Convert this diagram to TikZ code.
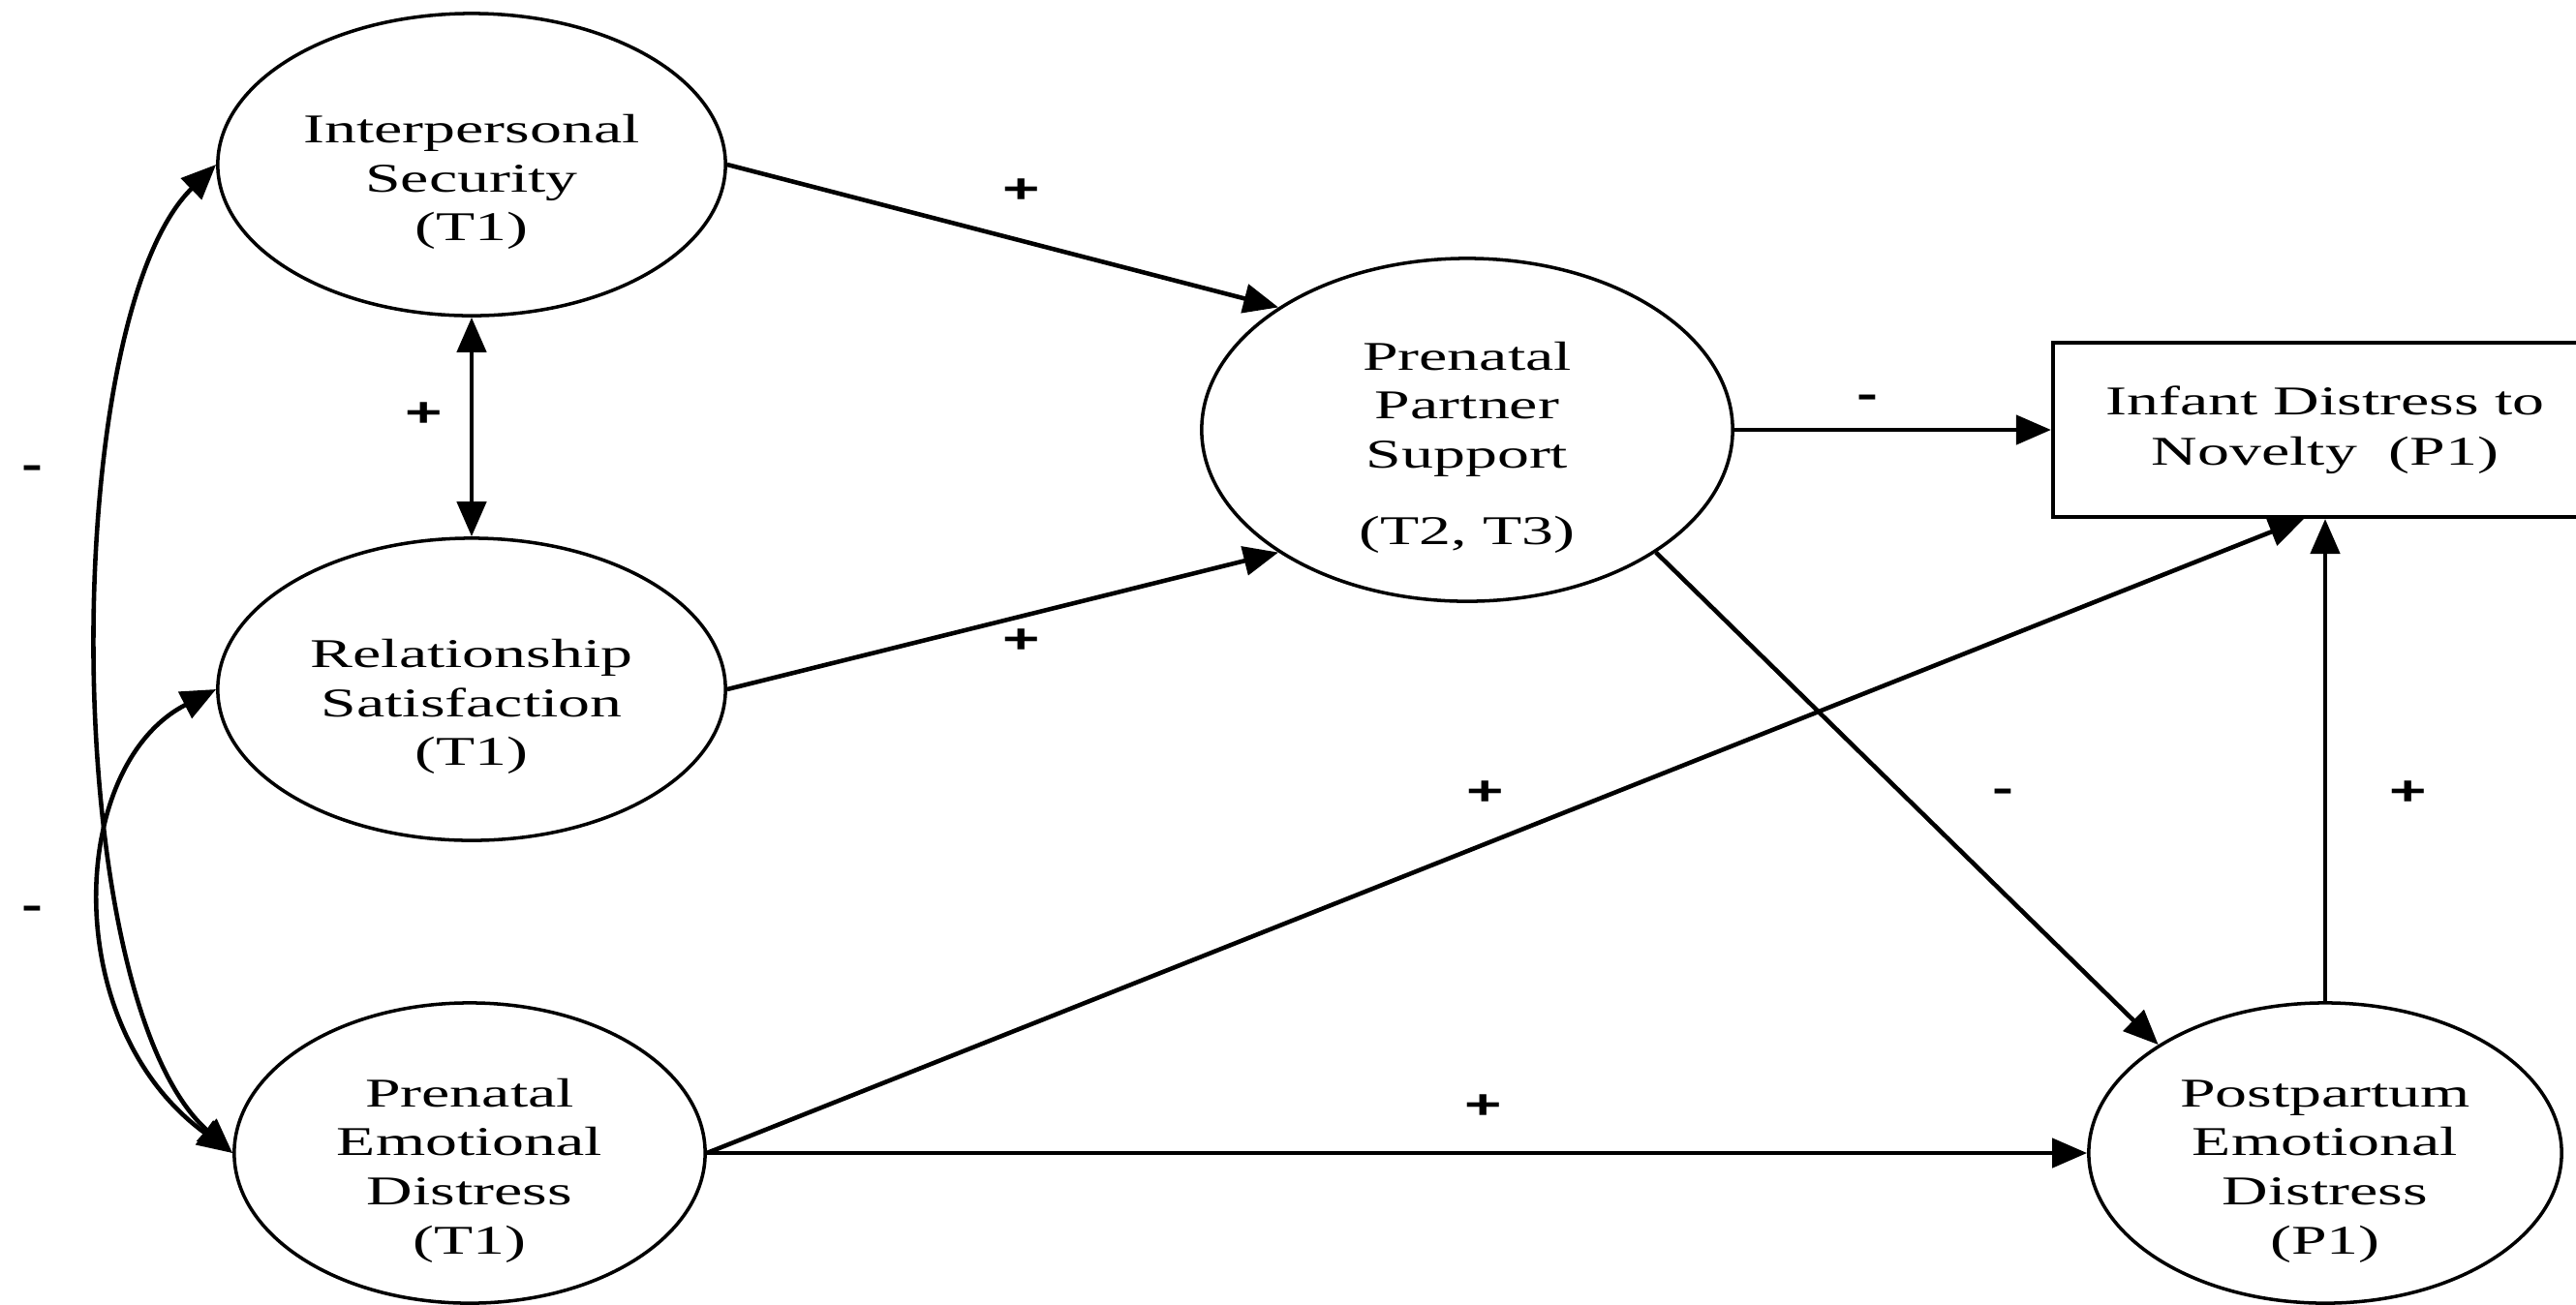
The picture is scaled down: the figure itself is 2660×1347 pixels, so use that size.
\documentclass[tikz,border=0pt]{standalone}
\usepackage{fontspec}
\setmainfont{Liberation Serif}[FakeStretch=1.56]
\newfontfamily\signfont{Liberation Sans}[FakeStretch=1.56]
\usetikzlibrary{shapes.geometric,arrows.meta}

% strut that lowers the text inside the ellipses
\newcommand{\toppad}{\rule{0pt}{0.65cm}}

\begin{document}
\begin{tikzpicture}[x=0.01cm, y=-0.01cm, >={Triangle[length=0.36cm, width=0.3cm]}]

    % --- DEFINE STYLES ---
    % Style for latent constructs
    \tikzstyle{latent} = [ellipse, draw, line width=1pt, inner xsep=0pt, inner ysep=-0.06cm,
        align=center, font=\fontsize{12pt}{14.4pt}\selectfont]
    % Style for the observed outcome
    \tikzstyle{observed} = [rectangle, draw, line width=1.1pt, inner sep=0pt, align=center,
        font=\fontsize{12pt}{14.8pt}\selectfont, minimum width=5.62cm, minimum height=1.8cm]
    % Style for directed paths
    \tikzstyle{effect} = [->, line width=1.3pt]
    % Style for covariances
    \tikzstyle{covar} = [<->, line width=1.3pt]
    % Style for the signs of the paths
    \tikzstyle{signlabel} = [font=\signfont\bfseries\fontsize{12pt}{14pt}\selectfont, inner sep=0pt]

    \useasboundingbox (0,0) rectangle (2660,1347);

    % --- CONSTRUCTS ---
    \node[latent, minimum width=5.24cm, minimum height=3.12cm] (IS) at (487,170)
        {\toppad Interpersonal\\Security\\(T1)};
    \node[latent, minimum width=5.24cm, minimum height=3.12cm] (RS) at (487,712)
        {\toppad Relationship\\Satisfaction\\(T1)};
    \node[latent, minimum width=4.86cm, minimum height=3.10cm] (PED) at (485,1191)
        {\toppad Prenatal\\Emotional\\Distress\\(T1)};
    \node[latent, minimum width=5.48cm, minimum height=3.54cm] (PPS) at (1515,444)
        {\toppad Prenatal\\Partner\\Support\\[8pt](T2, T3)};
    \node[observed] (IDN) at (2401,444) {Infant Distress to\\Novelty~ (P1)};
    \node[latent, minimum width=4.88cm, minimum height=3.10cm] (PoED) at (2401,1191)
        {\toppad Postpartum\\Emotional\\Distress\\(P1)};

    % --- PATHS ---
    \draw[effect] (IS.east) -- (PPS.147);
    \draw[effect] (RS.east) -- (PPS.213);
    \draw[effect] (PPS.east) -- (IDN.west);
    \draw[effect] (PPS.-33) -- (PoED.147);
    \draw[effect] (PED.east) -- ([xshift=-0.22cm]IDN.south);
    \draw[effect] (PED.east) -- (PoED.west);
    \draw[effect] (PoED.north) -- (PoED.north |- IDN.south);

    % --- COVARIANCES ---
    \draw[covar] (IS.south) -- (RS.north);
    \draw[covar] (IS.west) .. controls (60,330) and (60,1030) .. (PED.west);
    \draw[covar] (RS.west) .. controls (70,790) and (60,1060) .. (PED.west);

    % --- SIGNS ---
    \node[signlabel] (sISPPS) at (1055,197) {+};
    \node[signlabel] (sRSPPS) at (1055,662) {+};
    \node[signlabel] (sISRS) at (438,428) {+};
    \node[signlabel] (sPPSIDN) at (1928,415) {-};
    \node[signlabel] (sPPSPoED) at (2068,822) {-};
    \node[signlabel] (sPEDIDN) at (1534,819) {+};
    \node[signlabel] (sPEDPoED) at (1532,1143) {+};
    \node[signlabel] (sPoEDIDN) at (2487,819) {+};
    \node[signlabel] (sISPED) at (33,488) {-};
    \node[signlabel] (sRSPED) at (33,943) {-};
\end{tikzpicture}
\end{document}
